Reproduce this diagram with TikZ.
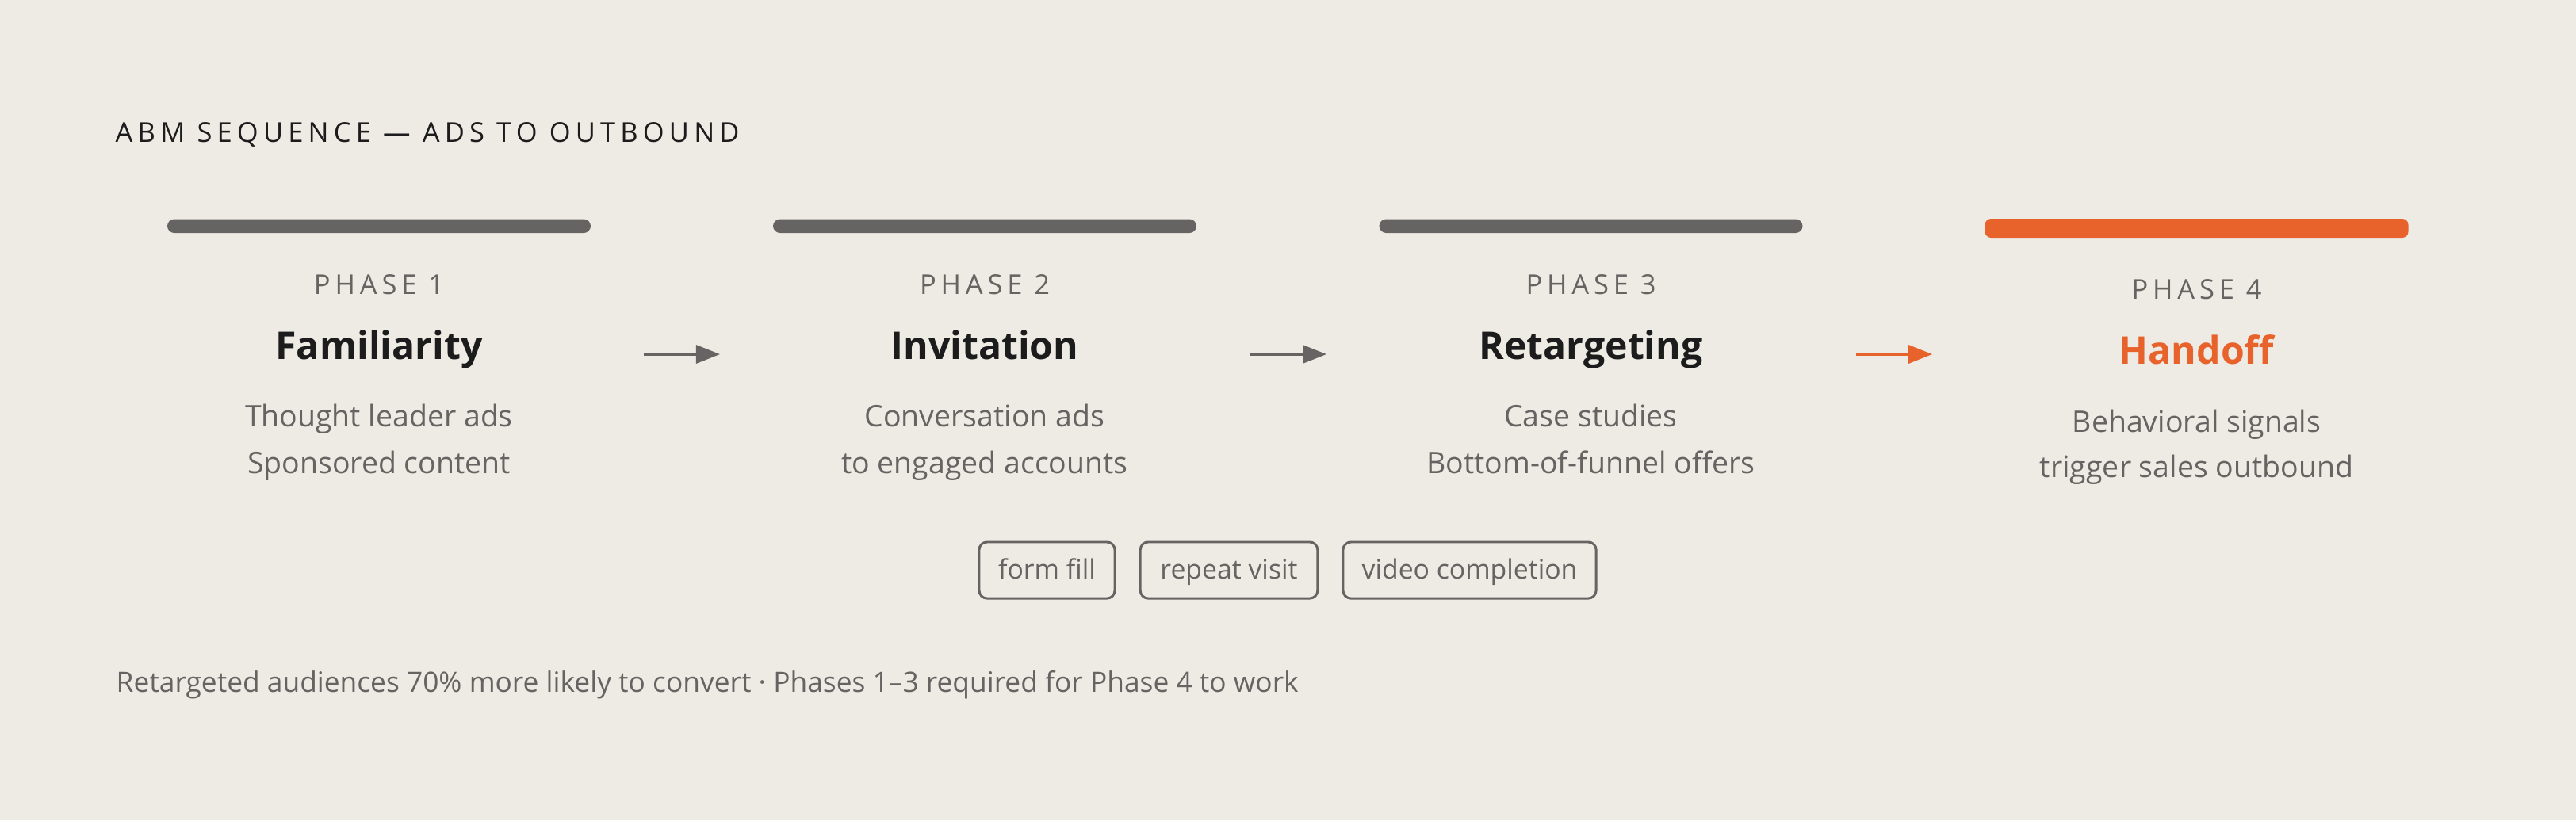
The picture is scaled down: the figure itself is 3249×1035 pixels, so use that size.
\documentclass[tikz,border=0pt]{standalone}
\usepackage{fontspec}
\setmainfont{Open Sans}
\usepackage{xcolor}
\usetikzlibrary{arrows.meta}

\definecolor{paper}{HTML}{EEEBE5}
\definecolor{ink}{HTML}{1C1C1C}
\definecolor{mute}{HTML}{666462}
\definecolor{accent}{HTML}{E8622C}

\newcommand\titlefont{\fontsize{9.8pt}{11pt}\selectfont\addfontfeature{LetterSpace=18}}
\newcommand\phasefont{\fontsize{9.8pt}{11pt}\selectfont\addfontfeature{LetterSpace=17}}
\newcommand\namefont{\fontsize{13.7pt}{17pt}\selectfont\bfseries}
\newcommand\bodyfont{\fontsize{10.65pt}{12pt}\selectfont}
\newcommand\tagfont{\fontsize{9.6pt}{12pt}\selectfont}
\newcommand\notefont{\fontsize{10.05pt}{11pt}\selectfont}

\begin{document}
\begin{tikzpicture}[x=0.01cm,y=-0.01cm,>={Triangle[length=0.3cm,width=0.23cm]},
  phaselabel/.style={anchor=base, inner sep=0pt, text=mute, font=\phasefont},
  phasename/.style={anchor=base, inner sep=0pt, text=ink, font=\namefont},
  phasebody/.style={anchor=base, inner sep=0pt, text=mute, font=\bodyfont},
  signaltag/.style={draw=mute, line width=0.85pt, rounded corners=2.8pt, text=mute, font=\tagfont,
    minimum height=0.71cm, text height=0.21cm, text depth=0cm, inner sep=0pt},
  steparrow/.style={->, line width=0.85pt, draw=mute, fill=mute}]
  \def\W{534}
  \def\xa{478}
  \def\xb{1242}
  \def\xc{2006.5}
  \def\xd{2770.5}

  % Background
  \fill[paper] (0,0) rectangle (3249,1035);
  \useasboundingbox (0,0) rectangle (3249,1035);

  \node[anchor=base west, inner sep=0pt, text=ink, font=\titlefont] (title) at (145,179)
    {ABM SEQUENCE — ADS TO OUTBOUND};

  % Bars
  \fill[mute, rounded corners=2.5pt] (\xa-\W/2,276.5) rectangle (\xa+\W/2,294);
  \fill[mute, rounded corners=2.5pt] (\xb-\W/2,276.5) rectangle (\xb+\W/2,294);
  \fill[mute, rounded corners=2.5pt] (\xc-\W/2,276.5) rectangle (\xc+\W/2,294);
  \fill[accent, rounded corners=2.2pt] (\xd-\W/2,276) rectangle (\xd+\W/2,300);

  % Phase 1
  \node[phaselabel] (p1) at (\xa,371) {PHASE 1};
  \node[phasename] (n1) at (\xa,453) {Familiarity};
  \node[phasebody] (b1) at (\xa,538) {Thought leader ads};
  \node[phasebody] (c1) at (\xa,597) {Sponsored content};

  % Phase 2
  \node[phaselabel] (p2) at (\xb,371) {PHASE 2};
  \node[phasename] (n2) at (\xb,453) {Invitation};
  \node[phasebody] (b2) at (\xb,538) {Conversation ads};
  \node[phasebody] (c2) at (\xb,597) {to engaged accounts};

  % Phase 3
  \node[phaselabel] (p3) at (\xc,371) {PHASE 3};
  \node[phasename] (n3) at (\xc,453) {Retargeting};
  \node[phasebody] (b3) at (\xc,538) {Case studies};
  \node[phasebody] (c3) at (\xc,597) {Bottom-of-funnel offers};

  % Phase 4
  \node[phaselabel] (p4) at (\xd,377) {PHASE 4};
  \node[phasename, text=accent] (n4) at (\xd,459) {Handoff};
  \node[phasebody] (b4) at (\xd,545) {Behavioral signals};
  \node[phasebody] (c4) at (\xd,602) {trigger sales outbound};

  % Arrows
  \coordinate (a1) at (812,447);  \coordinate (e1) at (908,447);
  \coordinate (a2) at (1577,447); \coordinate (e2) at (1673,447);
  \coordinate (a3) at (2341,447); \coordinate (e3) at (2437,447);
  \draw[steparrow] (a1) -- (e1);
  \draw[steparrow] (a2) -- (e2);
  \draw[steparrow, draw=accent, fill=accent, line width=1pt] (a3) -- (e3);

  % Signals
  \node[signaltag, minimum width=1.71cm] (t1) at (1320.5,719.5) {form fill};
  \node[signaltag, minimum width=2.235cm] (t2) at (1550,719.5) {repeat visit};
  \node[signaltag, minimum width=3.19cm] (t3) at (1853.5,719.5) {video completion};

  \node[anchor=base west, inner sep=0pt, text=mute, font=\notefont] (note) at (146,873)
    {Retargeted audiences 70\% more likely to convert · Phases 1–3 required for Phase 4 to work};
\end{tikzpicture}
\end{document}
